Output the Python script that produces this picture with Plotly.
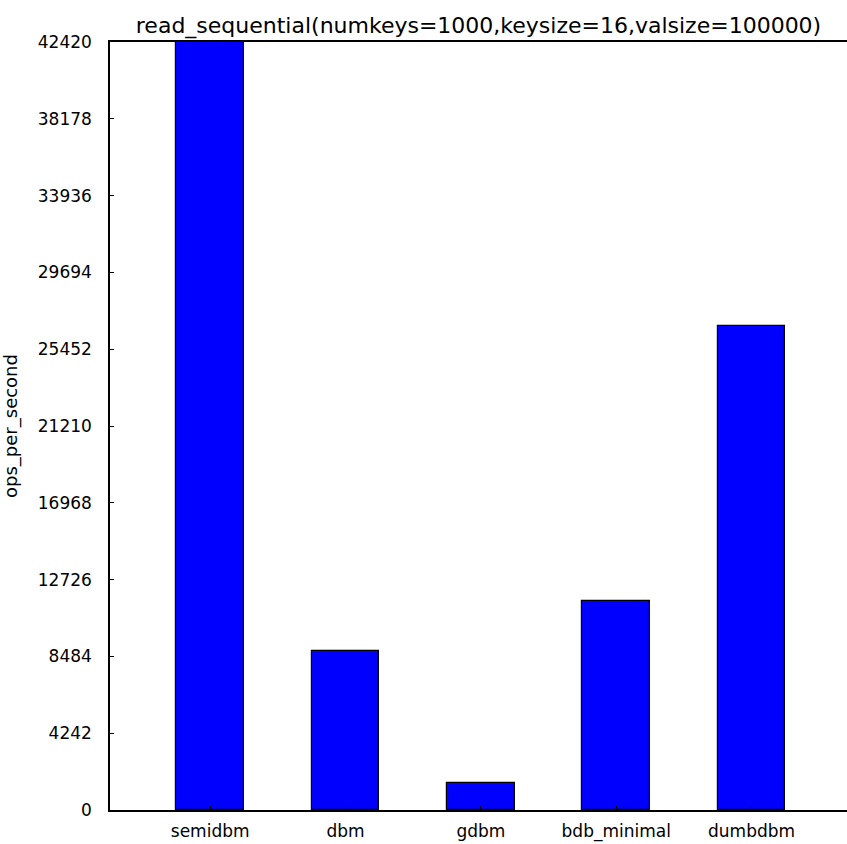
import plotly.graph_objects as go

categories = ["semidbm", "dbm", "gdbm", "bdb_minimal", "dumbdbm"]
ops_per_second = [42420, 8800, 1475, 11540, 26750]
y_tick_values = [0, 4242, 8484, 12726, 16968, 21210, 25452, 29694, 33936, 38178, 42420]
title_text = "read_sequential(numkeys=1000,keysize=16,valsize=100000)"

positions = list(range(len(categories)))

fig = go.Figure(go.Bar(
    x=positions, y=ops_per_second, width=0.5,
    marker=dict(color="#0000ff", line=dict(color="black", width=1.2)),
))

fig.update_layout(
    width=847, height=844,
    margin=dict(l=110, r=0, t=42, b=34),
    paper_bgcolor="white", plot_bgcolor="white",
    font=dict(family="DejaVu Sans", size=17, color="black"),
    showlegend=False,
    title=dict(text=title_text, x=0.5, xref="paper", xanchor="center",
               y=1, yref="paper", yanchor="bottom", pad=dict(b=9),
               font=dict(size=22, color="black")),
    bargap=0,
)
fig.update_xaxes(
    range=[-0.74, 4.705], tickvals=positions, ticktext=categories,
    showgrid=False, zeroline=False, showline=True, linecolor="black", linewidth=1.5,
    mirror=True, ticks="inside", ticklen=4, tickcolor="black",
    ticklabelstandoff=5,
)
fig.update_yaxes(
    range=[0, 42420], tickvals=y_tick_values, ticktext=[str(v) for v in y_tick_values],
    showgrid=False, zeroline=False, showline=True, linecolor="black", linewidth=1.5,
    mirror=False, ticks="inside", ticklen=4, tickcolor="black",
    ticklabelstandoff=13,
    title=dict(text="ops_per_second", standoff=20, font=dict(size=18)),
    automargin=False,
)

fig.write_html("out.html", config={"displayModeBar": False},
               post_script="document.body.style.margin='0';document.body.style.overflow='hidden';")
